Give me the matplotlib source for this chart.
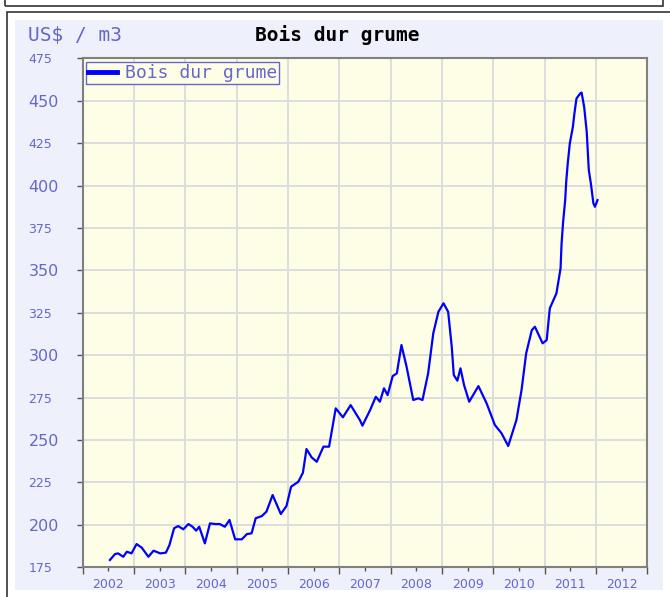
import matplotlib
matplotlib.use('Agg')

import matplotlib.pyplot as plt
from matplotlib.patches import Rectangle

# data
years = [2002.53, 2002.63, 2002.69, 2002.79, 2002.86, 2002.95, 2003.05, 2003.15,
         2003.28, 2003.38, 2003.51, 2003.62, 2003.69, 2003.78, 2003.86, 2003.96,
         2004.06, 2004.14, 2004.21, 2004.27, 2004.38, 2004.48, 2004.58, 2004.67,
         2004.77, 2004.86, 2004.97, 2005.10, 2005.20, 2005.29, 2005.37, 2005.49,
         2005.58, 2005.70, 2005.86, 2005.97, 2006.06, 2006.20, 2006.29, 2006.36,
         2006.46, 2006.56, 2006.69, 2006.80, 2006.93, 2007.07, 2007.22, 2007.40,
         2007.45, 2007.60, 2007.71, 2007.79, 2007.87, 2007.94, 2008.04, 2008.12,
         2008.21, 2008.31, 2008.44, 2008.54, 2008.62, 2008.73, 2008.83, 2008.93,
         2009.03, 2009.12, 2009.19, 2009.23, 2009.30, 2009.36, 2009.43, 2009.53,
         2009.71, 2009.87, 2010.03, 2010.16, 2010.29, 2010.45, 2010.55, 2010.64,
         2010.75, 2010.81, 2010.96, 2011.04, 2011.10, 2011.23, 2011.31, 2011.33,
         2011.36, 2011.40, 2011.42, 2011.45, 2011.49, 2011.55, 2011.58, 2011.62,
         2011.69, 2011.72, 2011.77, 2011.82, 2011.86, 2011.90, 2011.95, 2011.98,
         2012.03]
prices = [179.3, 182.8, 183.2, 181.2, 184.2, 183.2, 188.7, 186.6,
          181.2, 184.8, 183.2, 183.6, 188.1, 198.0, 199.3, 197.4,
          200.5, 198.9, 196.6, 198.9, 189.1, 200.9, 200.5, 200.5,
          198.9, 202.9, 191.5, 191.5, 194.6, 195.0, 203.9, 205.2,
          207.8, 217.6, 206.4, 211.1, 222.5, 225.4, 230.7, 244.7,
          239.8, 237.2, 246.1, 246.1, 268.7, 263.4, 270.6, 261.8,
          258.5, 267.7, 275.5, 272.6, 280.5, 276.5, 287.7, 289.3,
          306.0, 293.2, 273.6, 274.6, 273.6, 289.3, 312.9, 325.6,
          330.6, 325.6, 305.0, 288.3, 285.0, 292.3, 282.4, 272.6,
          281.8, 271.6, 258.9, 254.0, 246.5, 261.8, 279.5, 301.1,
          314.8, 316.8, 307.0, 308.9, 327.6, 336.5, 351.2, 365.9,
          378.6, 391.4, 402.2, 413.0, 424.8, 434.6, 442.5, 451.3,
          454.2, 454.8, 446.3, 431.6, 409.2, 401.3, 389.5, 387.5,
          391.4]
year_labels = ['2002', '2003', '2004', '2005', '2006', '2007', '2008',
               '2009', '2010', '2011', '2012']
y_ticks = [175, 200, 225, 250, 275, 300, 325, 350, 375, 400, 425, 450, 475]

W, H = 670, 597
label_col = '#6666cc'
mono = 'DejaVu Sans Mono'


def px(x0, y0, x1, y1):
    # pixel box -> figure fraction (x, y, w, h)
    return (x0 / W, 1 - y1 / H, (x1 - x0) / W, (y1 - y0) / H)


fig = plt.figure(figsize=(W / 100, H / 100), dpi=100, facecolor='white')

# frames and panel, behind the axes
x, y, w, h = px(5, -5, 663, 6)
fig.add_artist(Rectangle((x, y), w, h, transform=fig.transFigure, zorder=-10,
                         facecolor='none', edgecolor='#333333', lw=1.2))
x, y, w, h = px(7, 12, 680, 610)
fig.add_artist(Rectangle((x, y), w, h, transform=fig.transFigure, zorder=-10,
                         facecolor='white', edgecolor='#333333', lw=1.2))
x, y, w, h = px(15, 20, 663, 590)
fig.add_artist(Rectangle((x, y), w, h, transform=fig.transFigure, zorder=-9,
                         facecolor='#eef1fb', edgecolor='none'))

ax = fig.add_axes(px(82.7, 58.3, 647.3, 567.3))
ax.set_facecolor('#fefee6')

ax.plot(years, prices, color='#0000ff', lw=1.6, label='Bois dur grume')

ax.set_xlim(2002, 2013)
ax.set_ylim(175, 475)

# year boundaries: grid + long ticks, labels sit mid-year on short ticks
ax.set_xticks(range(2002, 2014))
ax.set_xticklabels([])
ax.set_xticks([int(s) + 0.5 for s in year_labels], year_labels, minor=True)
ax.set_yticks(y_ticks)
ax.set_yticklabels([str(v) for v in y_ticks])

ax.grid(True, which='major', color='#dddddd', lw=1.4)
ax.set_axisbelow(True)

ax.tick_params(axis='x', which='major', length=5, width=1, color='#555555')
ax.tick_params(axis='x', which='minor', length=3, width=1, color='#555555',
               labelsize=9, labelcolor=label_col, pad=5)
ax.tick_params(axis='y', length=4, width=1, color='#555555',
               labelcolor=label_col, pad=35)
for i, lab in enumerate(ax.get_yticklabels()):
    lab.set_horizontalalignment('left')
    lab.set_fontsize(11.5 if i % 2 == 1 else 9)

for s in ax.spines.values():
    s.set_color('#808080')
    s.set_linewidth(1.5)

leg = ax.legend(loc='upper left', bbox_to_anchor=(0.005, 0.993),
                borderaxespad=0, fancybox=False, framealpha=1,
                facecolor='#fefee6', edgecolor=label_col,
                prop={'family': mono, 'size': 13},
                handlelength=1.6, handletextpad=0.45, borderpad=0.12)
leg.get_frame().set_linewidth(1)
for t in leg.get_texts():
    t.set_color(label_col)
for l in leg.get_lines():
    l.set_linewidth(3.5)

fig.text(28 / W, 1 - 35 / H, 'US$ / m3', color=label_col, family=mono,
         fontsize=14, va='center', ha='left')
fig.text(337 / W, 1 - 35 / H, 'Bois dur grume', color='black', family=mono,
         fontsize=14, fontweight='bold', va='center', ha='center')

fig.savefig('out.png', dpi=100, facecolor='white')
